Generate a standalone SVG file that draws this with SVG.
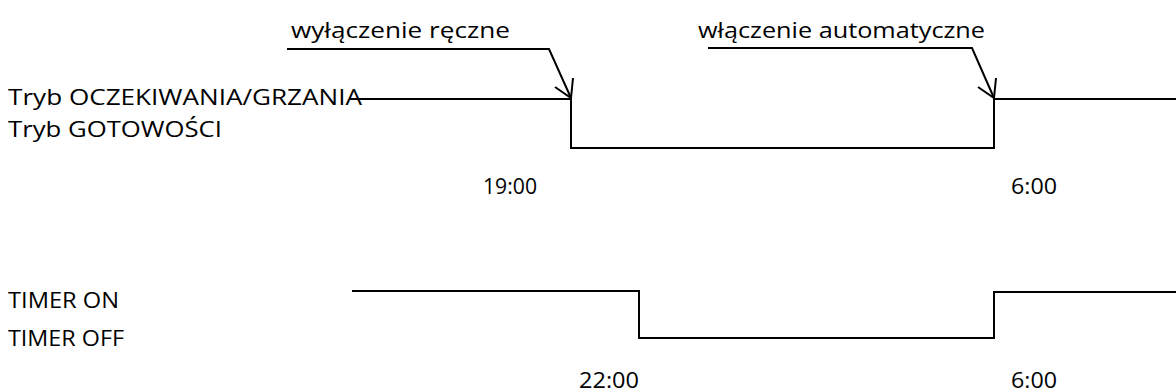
<svg xmlns="http://www.w3.org/2000/svg" width="1176" height="392" viewBox="0 0 1176 392">
<style>
text{font-family:"Open Sans","Liberation Sans",sans-serif;font-size:22px;fill:#000}
.w{fill:none;stroke:#000;stroke-width:2}
.l{fill:none;stroke:#000;stroke-width:2;stroke-linejoin:miter}
</style>
<rect width="1176" height="392" fill="#fff"/>
<g id="labels">
<text x="8" y="105" textLength="354" lengthAdjust="spacingAndGlyphs">Tryb OCZEKIWANIA/GRZANIA</text>
<text x="8" y="137" textLength="214" lengthAdjust="spacingAndGlyphs">Tryb GOTOWOŚCI</text>
<text x="8" y="308" textLength="111" lengthAdjust="spacingAndGlyphs">TIMER ON</text>
<text x="8" y="346" textLength="116" lengthAdjust="spacingAndGlyphs">TIMER OFF</text>
</g>
<g id="times">
<text x="483" y="194" textLength="54" lengthAdjust="spacingAndGlyphs">19:00</text>
<text x="1011" y="194" textLength="46" lengthAdjust="spacingAndGlyphs">6:00</text>
<text x="579" y="388" textLength="60" lengthAdjust="spacingAndGlyphs">22:00</text>
<text x="1011" y="388" textLength="46" lengthAdjust="spacingAndGlyphs">6:00</text>
</g>
<g id="annotations">
<text x="291" y="38" textLength="219" lengthAdjust="spacingAndGlyphs">wyłączenie ręczne</text>
<text x="698" y="38" textLength="287" lengthAdjust="spacingAndGlyphs">włączenie automatyczne</text>
</g>
<g id="connectors">
<path class="w" d="M350,99 H571 V148 H994 V99 H1176"/>
<path class="w" d="M352,291 H639 V338 H994 V292 H1176"/>
<path class="l" d="M287,49 H549 L571,98"/>
<path class="l" d="M555,87 L571,98 L573,78"/>
<path class="l" d="M708,48 H972 L994,98"/>
<path class="l" d="M978,87 L994,98 L996,78"/>
</g>
</svg>
